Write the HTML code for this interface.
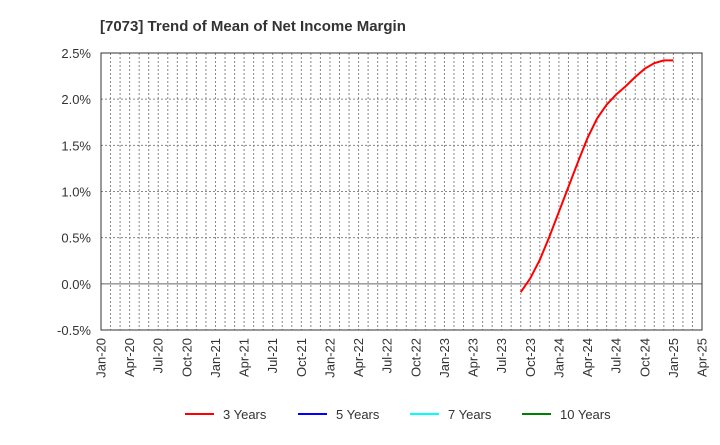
<!DOCTYPE html>
<html><head><meta charset="utf-8"><style>
body{margin:0;background:#fff;font-family:"Liberation Sans",sans-serif}
</style></head><body>
<svg id="c" width="720" height="440" xmlns="http://www.w3.org/2000/svg" font-family="Liberation Sans, sans-serif">
<text x="100" y="31" font-size="15" font-weight="bold" fill="#333">[7073]  Trend of Mean of Net Income Margin</text>
<g id="grid"></g><g id="axes"></g><g id="series"></g>
<g id="legend"></g>
</svg>
<script>
const yTicks=[-0.5,0,0.5,1.0,1.5,2.0,2.5];
const xLabels=["Jan-20","Apr-20","Jul-20","Oct-20","Jan-21","Apr-21","Jul-21","Oct-21","Jan-22","Apr-22","Jul-22","Oct-22","Jan-23","Apr-23","Jul-23","Oct-23","Jan-24","Apr-24","Jul-24","Oct-24","Jan-25","Apr-25"];
const startMonth=44; // Sep-23 index from Jan-20
const values3=[-0.09,0.06,0.26,0.51,0.78,1.05,1.32,1.58,1.79,1.94,2.05,2.14,2.24,2.33,2.39,2.42,2.42];
const legendNames=["3 Years","5 Years","7 Years","10 Years"];
const legendColors=["#ff0000","#0000ff","#00ffff","#008000"];
const L=101,R=702,T=53,B=330,NM=63;
const xS=m=>L+(R-L)*m/NM;
const yS=v=>B-(v+0.5)/3.0*(B-T);
const ns="http://www.w3.org/2000/svg";
function mk(t,a,p){const e=document.createElementNS(ns,t);for(const k in a)e.setAttribute(k,a[k]);p.appendChild(e);return e;}
const g=document.getElementById('grid'),ax=document.getElementById('axes'),s=document.getElementById('series'),lg=document.getElementById('legend');
for(let m=1;m<NM;m++){const l=mk('line',{x1:xS(m),x2:xS(m),y1:T,y2:B,stroke:'#888','stroke-dasharray':'2,2','stroke-width':1},g);

}
yTicks.forEach(v=>{const y=yS(v);
const l=mk('line',{x1:L,x2:R,y1:y,y2:y,stroke:v===0?'#666':'#888','stroke-dasharray':v===0?'':'2,2','stroke-width':1},g);


const t=mk('text',{x:L-10,y:y+5,'text-anchor':'end','font-size':13,fill:'#333'},ax);t.textContent=v.toFixed(1)+'%';

});
xLabels.forEach((lab,i)=>{const x=xS(i*3);
const t=mk('text',{x:0,y:0,transform:`translate(${x+4.5},${B+8}) rotate(-90)`,'text-anchor':'end','font-size':13,fill:'#333'},ax);t.textContent=lab;

});
const fr=mk('rect',{x:L,y:T,width:R-L,height:B-T,fill:'none',stroke:'#333','stroke-width':1},ax);


const pts=values3.map((v,i)=>xS(startMonth+i)+','+yS(v)).join(' ');
const pl=mk('polyline',{points:pts,fill:'none',stroke:'#ff0000','stroke-width':2},s);


const lx=[185,298,410,522];
legendNames.forEach((n,i)=>{const l=mk('line',{x1:lx[i],x2:lx[i]+29,y1:414,y2:414,stroke:legendColors[i],'stroke-width':2},lg);


const t=mk('text',{x:lx[i]+38,y:419,'font-size':13,fill:'#333'},lg);t.textContent=n;

});
</script>
</body></html>
